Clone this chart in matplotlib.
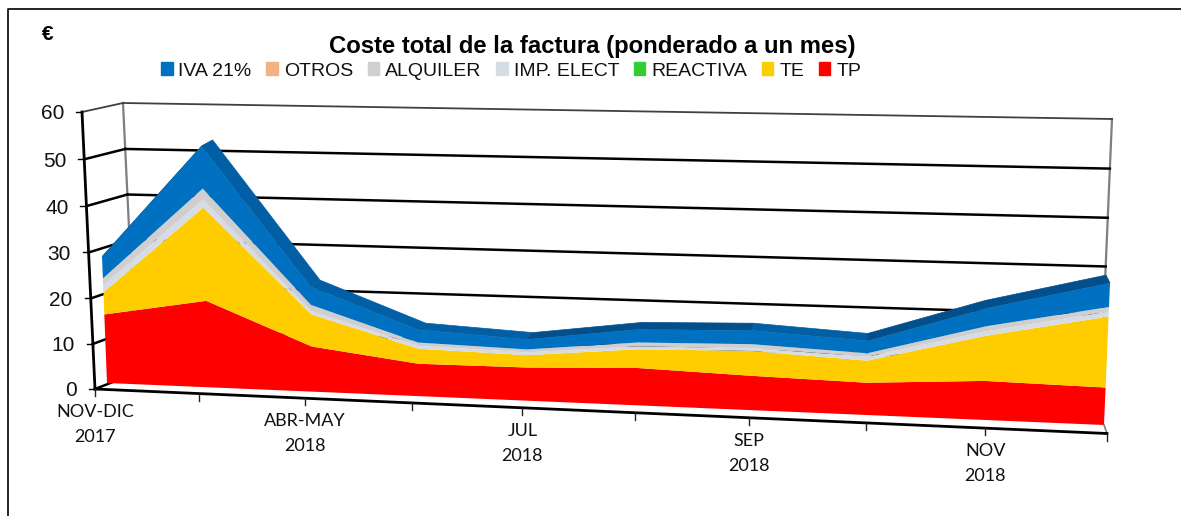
import numpy as np
import matplotlib
matplotlib.use("Agg")
import matplotlib.pyplot as plt
from matplotlib.lines import Line2D
from matplotlib.patches import Patch
from matplotlib.transforms import Transform

plt.rcParams["font.family"] = ["Liberation Sans", "DejaVu Sans"]

# Data
categories = list(range(10))
tick_labels = ["NOV-DIC\n2017", "", "ABR-MAY\n2018", "", "JUL\n2018", "", "SEP\n2018", "", "NOV\n2018", ""]
tp = [15.0, 18.7, 9.7, 6.9, 7.0, 7.8, 7.1, 6.6, 7.9, 7.5]
te = [4.8, 19.9, 6.9, 3.2, 2.6, 3.9, 5.1, 4.5, 9.1, 14.1]
reactiva = [0.0, 0.0, 0.0, 0.0, 0.0, 0.0, 0.0, 0.0, 0.0, 0.0]
imp_elect = [1.5, 1.7, 0.7, 0.6, 0.6, 0.6, 0.6, 0.8, 0.9, 1.0]
alquiler = [1.5, 2.3, 1.3, 0.7, 0.6, 0.8, 0.8, 0.7, 1.0, 0.9]
otros = [0.0, 0.0, 0.0, 0.0, 0.0, 0.0, 0.0, 0.0, 0.0, 0.0]
iva = [4.7, 8.9, 3.9, 2.7, 2.1, 2.7, 2.8, 2.5, 3.6, 4.7]
y_ticks = [0, 10, 20, 30, 40, 50, 60]

series_names = ["TP", "TE", "REACTIVA", "IMP. ELECT", "ALQUILER", "OTROS", "IVA 21%"]
colors = ["#ff0000", "#ffcc00", "#33cc33", "#d6dce5", "#d0cece", "#f4b183", "#0070c0"]


class Plane(Transform):
    """Perspective map of (category, value) onto a quad given in pixels."""

    input_dims = 2
    output_dims = 2

    def __init__(self, bl, br, tr, tl):
        super().__init__()
        src = [(0, 0), (9, 0), (9, 60), (0, 60)]
        a = []
        b = []
        for (u, v), (x, y) in zip(src, [bl, br, tr, tl]):
            a.append([u, v, 1, 0, 0, 0, -u * x, -v * x])
            a.append([0, 0, 0, u, v, 1, -u * y, -v * y])
            b += [x, y]
        self.h = np.append(np.linalg.solve(np.array(a, float), np.array(b, float)), 1).reshape(3, 3)

    def transform_non_affine(self, values):
        pts = np.column_stack([values, np.ones(len(values))]) @ self.h.T
        return pts[:, :2] / pts[:, 2:]


fig = plt.figure(figsize=(11.81, 5.16), dpi=100)
ax = fig.add_axes([0, 0, 1, 1])
ax.set_axis_off()

# The four planes of the 3D box
front_p = Plane((95, 389), (1107, 433.5), (1125, 131), (82, 112))
wall_p = Plane((136, 373), (1099.5, 410), (1112, 119), (123, 103))
area_p = Plane((107, 383), (1104, 425), (1117, 119), (96, 104))
back_p = Plane((120, 377), (1100, 417), (1113, 111), (109, 98))

front = front_p + ax.transData
wall = wall_p + ax.transData
area = area_p + ax.transData
back = back_p + ax.transData
grey = "#7f7f7f"


def to_px(plane, u, v):
    return plane.transform_non_affine(np.array([[u, v]], float))[0]


# Walls and gridlines
ax.plot([0, 0], [0, 60], color=grey, lw=1.6, transform=wall, zorder=1)
ax.plot([9, 9], [0, 60], color=grey, lw=1.6, transform=wall, zorder=1)
for v in y_ticks:
    c = "#404040" if v == 60 else "black"
    w = 1.3 if v == 60 else 1.8
    ax.plot([0, 9], [v, v], color=c, lw=w, transform=wall, zorder=1)
    p0 = to_px(front_p, 0, v)
    p1 = to_px(wall_p, 0, v)
    ax.plot([p0[0], p1[0]], [p0[1], p1[1]], color=c, lw=w, zorder=1)
    ax.plot([p0[0] - 6, p0[0]], [p0[1], p0[1]], color="black", lw=1.0, zorder=5)
    ax.text(p0[0] - 18, p0[1] + 2, str(v), ha="right", va="center", fontsize=15, color="#111111")

# Left edge of the box
p0 = to_px(front_p, 0, 0)
p1 = to_px(front_p, 0, 60)
ax.plot([p0[0], p1[0]], [p0[1], p1[1]], color="black", lw=2.0, zorder=5)

# Top surface of the stack
total = np.sum([tp, te, reactiva, imp_elect, alquiler, otros, iva], axis=0)
for i in categories[:-1]:
    a0 = to_px(area_p, i, total[i])
    a1 = to_px(area_p, i + 1, total[i + 1])
    b1 = to_px(back_p, i + 1, total[i + 1])
    b0 = to_px(back_p, i, total[i])
    col = "#025fa6" if total[i + 1] < total[i] else "#024f8b"
    ax.fill([a0[0], a1[0], b1[0], b0[0]], [a0[1], a1[1], b1[1], b0[1]], color=col, lw=0.5, zorder=2)

# Front of the stack
ax.stackplot(categories, tp, te, reactiva, imp_elect, alquiler, otros, iva,
             colors=colors, transform=area, lw=0, zorder=3)

# Category axis
ax.plot([0, 9], [0, 0], color="black", lw=2.0, transform=front, zorder=5)
p0 = to_px(front_p, 9, 0)
p1 = to_px(area_p, 9, 0)
ax.plot([p0[0], p1[0]], [p0[1], p1[1]], color=grey, lw=1.2, zorder=4)
for i, lab in zip(categories, tick_labels):
    p = to_px(front_p, i, 0)
    ax.plot([p[0], p[0]], [p[1], p[1] + 7], color="#222222", lw=1.0, zorder=5)
    if lab:
        ax.text(p[0], p[1] + 15, lab, ha="center", va="top", fontsize=13, color="#111111",
                family=["Lato", "DejaVu Sans"], linespacing=1.7)

ax.set_xlim(0, 1181)
ax.set_ylim(516, 0)

# Frame (left and top only)
fig.add_artist(Line2D([7.5 / 1181, 7.5 / 1181, 1], [0, 1 - 8.5 / 516, 1 - 8.5 / 516], color="black", lw=1.2))

# Title, unit and legend
fig.text(592 / 1181, 1 - 46 / 516, "Coste total de la factura (ponderado a un mes)", ha="center", va="center",
         fontsize=17.2, fontweight="bold", color="black")
fig.text(48 / 1181, 1 - 35 / 516, "€", ha="center", va="center", fontsize=15, fontweight="bold", color="black")
handles = [Patch(color=c, label=n) for c, n in zip(colors[::-1], series_names[::-1])]
fig.legend(handles=handles, ncol=7, frameon=False, fontsize=14, loc="center",
           bbox_to_anchor=(511 / 1181, 1 - 71 / 516), handlelength=0.6, handleheight=0.6,
           handletextpad=0.3, columnspacing=0.75, borderpad=0, labelcolor="#111111")

fig.savefig("out.png", dpi=100)
